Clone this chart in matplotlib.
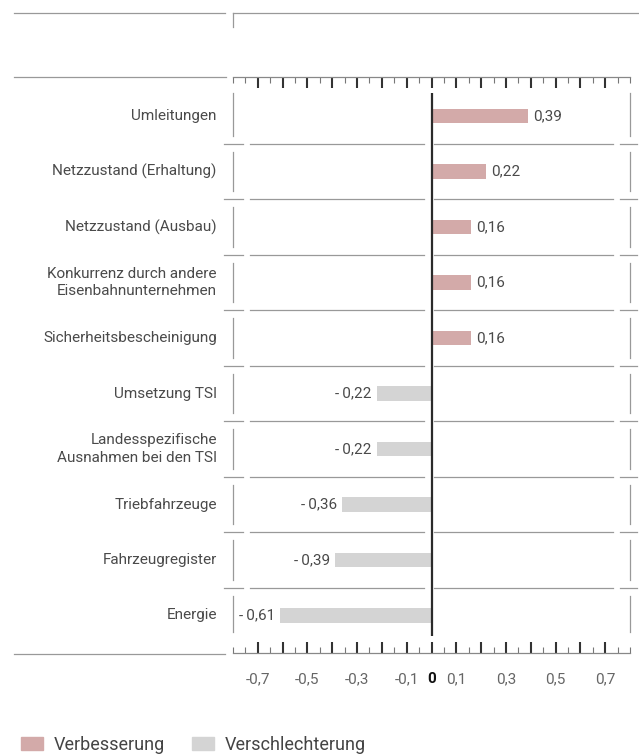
import numpy as np
import matplotlib
matplotlib.use("Agg")
import matplotlib.pyplot as plt
from matplotlib.lines import Line2D
from matplotlib.patches import Patch

plt.rcParams['font.family'] = ['Roboto', 'DejaVu Sans']

# data
categories = ["Umleitungen", "Netzzustand (Erhaltung)", "Netzzustand (Ausbau)",
              "Konkurrenz durch andere\nEisenbahnunternehmen", "Sicherheitsbescheinigung",
              "Umsetzung TSI", "Landesspezifische\nAusnahmen bei den TSI",
              "Triebfahrzeuge", "Fahrzeugregister", "Energie"]
values = [0.39, 0.22, 0.16, 0.16, 0.16, -0.22, -0.22, -0.36, -0.39, -0.61]
tick_vals = [-0.7, -0.6, -0.5, -0.4, -0.3, -0.2, -0.1, 0, 0.1, 0.2, 0.3, 0.4, 0.5, 0.6, 0.7]
tick_labels = ["-0,7", "", "-0,5", "", "-0,3", "", "-0,1", "0", "0,1", "", "0,3", "", "0,5", "", "0,7"]
legend_labels = ["Verbesserung", "Verschlechterung"]

pos_color = "#d3aaa9"
neg_color = "#d4d4d4"
text_color = "#4a4a4a"
line_color = "#999999"

W, H = 639, 755
fig = plt.figure(figsize=(W / 100, H / 100), dpi=100)

# axes box in pixels: left 233, right 630, top ruler 77, bottom ruler 653
row0_px, row_step = 116, 55.5
top_px, bot_px = 77, 653
ax = fig.add_axes([233 / W, (H - bot_px) / H, (630 - 233) / W, (bot_px - top_px) / H])
ax.set_xlim(-0.8, 0.8)
ax.set_ylim((bot_px - row0_px) / row_step, (top_px - row0_px) / row_step)

y = np.arange(len(categories))
colors = [pos_color if v > 0 else neg_color for v in values]
ax.barh(y, values, height=0.27, color=colors, zorder=2)

# value labels
for yi, v in zip(y, values):
    txt = ("0,%02d" % round(abs(v) * 100)) if v > 0 else ("-\u20090,%02d" % round(abs(v) * 100))
    if v > 0:
        ax.text(v + 0.02, yi, txt, ha="left", va="center", fontsize=11, color=text_color)
    else:
        ax.text(v - 0.02, yi, txt, ha="right", va="center", fontsize=11, color=text_color)

# category labels
for yi, c in zip(y, categories):
    ax.text(-0.865, yi, c, ha="right", va="center", fontsize=11, color=text_color,
            linespacing=1.35, clip_on=False)

# zero line
ax.plot([0, 0], [-0.41, 9.37], color="#2b2b2b", lw=1.6, zorder=3, solid_capstyle="butt")

# row separators
for k in range(len(categories) - 1):
    ys = k + 0.5
    for x0, x1 in [(-0.836, -0.76), (-0.73, -0.03), (0.01, 0.73), (0.76, 0.83)]:
        ax.plot([x0, x1], [ys, ys], color=line_color, lw=0.9, clip_on=False)

# vertical row brackets left and right
n = len(categories)
for i in range(n):
    y0 = -0.41 if i == 0 else i - 0.36
    y1 = 9.3 if i == n - 1 else i + 0.36
    for xe in (-0.8, 0.8):
        ax.plot([xe, xe], [y0, y1], color=line_color, lw=0.9, clip_on=False)

# rulers (top and bottom)
for s in ["left", "right"]:
    ax.spines[s].set_visible(False)
for s in ["top", "bottom"]:
    ax.spines[s].set_color("#888888")
    ax.spines[s].set_linewidth(0.9)
ax.set_yticks([])
ax.set_xticks(tick_vals)
ax.set_xticklabels(tick_labels)
ax.set_xticks(np.arange(-16, 17) / 20, minor=True)
ax.tick_params(axis="x", which="major", direction="in", length=8, width=1.5,
               color="#333333", top=True, bottom=True, labeltop=False,
               labelsize=11, labelcolor="#666666", pad=14)
ax.tick_params(axis="x", which="minor", direction="in", length=4, width=0.8,
               color="#777777", top=True, bottom=True)
for lab in ax.get_xticklabels():
    if lab.get_text() == "0":
        lab.set_fontweight("bold")
        lab.set_color("#111111")

# frame lines outside the axes
def fig_line(x0, x1, y0, y1):
    fig.add_artist(Line2D([x0 / W, x1 / W], [1 - y0 / H, 1 - y1 / H], color=line_color, lw=0.9))

fig_line(14, 225, 13, 13)
fig_line(233, 639, 13, 13)
fig_line(233, 233, 13, 27)
fig_line(14, 226, 77, 77)
fig_line(14, 225, 654, 654)

# legend
handles = [Patch(color=pos_color), Patch(color=neg_color)]
fig.legend(handles, legend_labels, loc="lower left", bbox_to_anchor=(0.008, -0.02), ncol=2,
           frameon=False, fontsize=13, handlelength=1.2, handleheight=0.75,
           columnspacing=1.5, handletextpad=0.6, labelcolor="#444444")

fig.savefig("out.png", dpi=100)
